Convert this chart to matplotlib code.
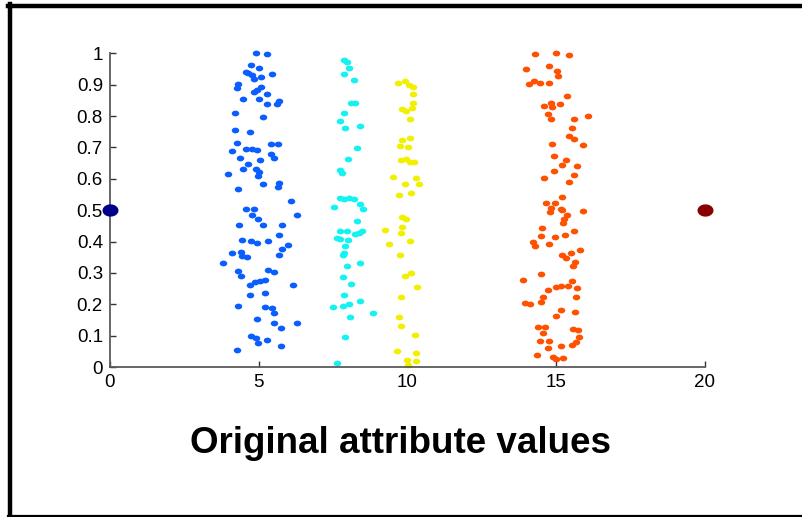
import numpy as np
import matplotlib.pyplot as plt
from matplotlib.lines import Line2D
from matplotlib.path import Path

plt.rcParams['font.family'] = ['Liberation Sans', 'DejaVu Sans']

# two end points of the attribute range
end_x = [0, 20]
end_y = [0.5, 0.5]
end_colors = ['#000088', '#880000']

blue_x = [4.91, 5.27, 4.73, 5.02, 4.56, 4.65, 4.78, 5.46, 5.08, 4.84, 4.31, 4.26, 5.08, 4.95,
          4.84, 5.27, 4.46, 5.02, 5.69, 5.29, 5.62, 4.19, 5.14, 4.22, 4.72, 4.26, 5.43, 5.64,
          4.11, 4.59, 4.76, 4.95, 5.41, 4.38, 5.52, 5.03, 4.65, 4.46, 4.90, 5.01, 3.96, 4.99,
          5.14, 5.69, 5.64, 4.29, 6.08, 4.56, 4.85,
          4.76, 4.99, 6.30, 4.34, 5.15, 5.77, 5.68, 4.45, 4.73, 4.95, 5.30, 5.99, 4.11, 4.40,
          4.43, 4.62, 5.79, 5.67, 3.80, 4.29, 4.40, 5.32, 5.52, 4.72, 4.87, 5.04, 5.21, 6.14,
          4.72, 5.22, 4.29, 5.23, 5.46, 5.50, 4.94, 5.52, 5.76, 6.29, 4.74, 4.90, 4.99, 5.29,
          5.76, 4.26]
blue_y = [1.000, 0.997, 0.962, 0.953, 0.940, 0.938, 0.932, 0.933, 0.924, 0.917, 0.902, 0.888,
          0.892, 0.882, 0.875, 0.870, 0.853, 0.853, 0.849, 0.837, 0.838, 0.810, 0.798, 0.756,
          0.748, 0.714, 0.712, 0.710, 0.688, 0.694, 0.694, 0.693, 0.680, 0.667, 0.665, 0.661,
          0.648, 0.630, 0.630, 0.622, 0.614, 0.609, 0.584, 0.586, 0.575, 0.567, 0.529, 0.503,
          0.505,
          0.484, 0.473, 0.486, 0.452, 0.452, 0.452, 0.420, 0.405, 0.403, 0.396, 0.401, 0.389,
          0.362, 0.367, 0.354, 0.351, 0.375, 0.356, 0.333, 0.307, 0.289, 0.309, 0.302, 0.262,
          0.272, 0.274, 0.277, 0.262, 0.230, 0.236, 0.194, 0.192, 0.187, 0.171, 0.153, 0.141,
          0.124, 0.141, 0.100, 0.093, 0.077, 0.085, 0.068, 0.055]

cyan_x = [7.87, 7.96, 8.04, 7.87, 8.21, 8.12, 8.24, 7.87, 7.75, 8.40, 7.91, 8.29, 7.99, 7.75,
          7.79, 7.75, 7.87, 8.04, 8.20, 8.40, 8.51, 7.53, 8.29, 7.75, 7.96, 8.24, 8.38, 8.46,
          7.62, 7.73, 7.99, 7.91, 7.87, 7.84, 7.96, 8.40, 7.82, 8.10, 7.87, 8.40, 7.49, 7.82,
          8.04, 8.83, 8.07, 7.90, 7.64]
cyan_y = [0.980, 0.972, 0.953, 0.933, 0.914, 0.842, 0.842, 0.810, 0.783, 0.769, 0.761, 0.697,
          0.663, 0.629, 0.620, 0.539, 0.535, 0.540, 0.535, 0.521, 0.505, 0.511, 0.466, 0.434,
          0.434, 0.424, 0.426, 0.434, 0.410, 0.409, 0.404, 0.386, 0.365, 0.357, 0.323, 0.333,
          0.288, 0.264, 0.229, 0.209, 0.191, 0.194, 0.200, 0.172, 0.160, 0.097, 0.012]

yellow_x = [9.69, 9.92, 10.06, 10.20, 10.20, 10.20, 9.83, 9.95, 10.16, 10.08, 9.83, 10.08,
            9.75, 10.03, 9.77, 9.95, 10.08, 10.22, 9.50, 10.29, 9.92, 10.40, 9.71, 10.13,
            9.83, 9.95, 9.83, 9.24, 9.78, 10.08, 9.38, 9.75, 9.92, 10.11, 10.33, 9.77, 9.71,
            9.77, 10.25, 9.66, 10.29, 9.99, 10.28, 10.03]
yellow_y = [0.906, 0.911, 0.898, 0.891, 0.869, 0.843, 0.823, 0.816, 0.826, 0.792, 0.723, 0.731,
            0.705, 0.700, 0.661, 0.664, 0.654, 0.654, 0.605, 0.603, 0.583, 0.583, 0.547, 0.556,
            0.479, 0.473, 0.447, 0.436, 0.427, 0.401, 0.392, 0.357, 0.291, 0.301, 0.255, 0.223,
            0.160, 0.131, 0.101, 0.051, 0.046, 0.022, 0.019, 0.006]

orange_x = [14.29, 15.01, 15.44, 13.97, 14.75, 15.03, 15.07, 14.08, 14.26, 14.45, 14.76, 15.37,
            14.81, 14.59, 14.87, 15.13, 14.71, 14.82, 15.59, 16.06, 15.54, 15.44, 15.60, 15.89,
            14.86, 14.94, 15.33, 15.20, 15.70, 14.92, 15.60, 14.59, 15.44, 15.20, 14.66, 14.97,
            14.83, 15.16,
            14.79, 15.18, 15.37, 15.89, 15.27, 15.22, 14.52, 14.48, 14.97, 15.29, 15.59, 14.21,
            14.30, 14.76, 15.18, 15.32, 15.50, 15.79, 15.63, 15.55, 13.89, 14.48, 15.54, 14.71,
            15.01, 15.15, 15.39, 15.71, 14.54, 15.66, 13.94, 14.12, 14.48, 15.15, 15.63, 15.01,
            14.40, 14.62, 14.54, 15.55, 15.74, 15.77, 15.68, 15.54, 14.45, 14.77, 14.71, 15.16,
            14.36, 14.88, 15.01, 15.24]
orange_y = [0.997, 1.000, 0.994, 0.951, 0.959, 0.943, 0.927, 0.901, 0.913, 0.906, 0.905, 0.864,
            0.843, 0.831, 0.828, 0.839, 0.808, 0.790, 0.789, 0.799, 0.762, 0.737, 0.726, 0.707,
            0.712, 0.674, 0.659, 0.644, 0.642, 0.626, 0.611, 0.603, 0.591, 0.542, 0.523, 0.523,
            0.507, 0.503,
            0.493, 0.500, 0.486, 0.496, 0.473, 0.458, 0.442, 0.418, 0.413, 0.420, 0.433, 0.399,
            0.385, 0.392, 0.357, 0.346, 0.365, 0.373, 0.335, 0.322, 0.277, 0.295, 0.274, 0.245,
            0.256, 0.258, 0.258, 0.251, 0.224, 0.222, 0.205, 0.201, 0.208, 0.182, 0.177, 0.162,
            0.128, 0.128, 0.110, 0.120, 0.118, 0.097, 0.081, 0.070, 0.083, 0.083, 0.060, 0.067,
            0.038, 0.031, 0.025, 0.028]

clusters = [
    (blue_x, blue_y, '#0a5eff'),
    (cyan_x, cyan_y, '#14f2f2'),
    (yellow_x, yellow_y, '#f0f000'),
    (orange_x, orange_y, '#ff5200'),
]

x_ticks = [0, 5, 10, 15, 20]
y_ticks = [0, 0.1, 0.2, 0.3, 0.4, 0.5, 0.6, 0.7, 0.8, 0.9, 1]
y_labels = ['0', '0.1', '0.2', '0.3', '0.4', '0.5', '0.6', '0.7', '0.8', '0.9', '1']

# slightly flattened dot, like the stretched markers in the slide
t = np.linspace(0, 2 * np.pi, 40)
flat_dot = Path(np.column_stack([1.3 * np.cos(t), np.sin(t)]), closed=True)

fig = plt.figure(figsize=(8.02, 5.17), dpi=100)
ax = fig.add_axes([0.137, 0.290, 0.742, 0.607])

for xs, ys, c in clusters:
    ax.plot(xs, ys, linestyle='none', marker=flat_dot, color=c, markersize=5.4,
            markeredgewidth=0, clip_on=False)

for x, y, c in zip(end_x, end_y, end_colors):
    ax.plot(x, y, linestyle='none', marker=flat_dot, color=c, markersize=11.5,
            markeredgewidth=0, clip_on=False, zorder=5)

ax.set_xlim(0, 20)
ax.set_ylim(0, 1)
ax.set_xticks(x_ticks)
ax.set_yticks(y_ticks)
ax.set_yticklabels(y_labels)

for side in ['top', 'right']:
    ax.spines[side].set_visible(False)
for side in ['left', 'bottom']:
    ax.spines[side].set_color('#5a5a5a')
    ax.spines[side].set_linewidth(1.3)

ax.tick_params(direction='in', length=4, width=1, color='#333333',
               labelsize=13.5, labelcolor='black')
ax.tick_params(axis='y', pad=5)
ax.tick_params(axis='x', pad=5)

fig.text(0.5, 0.143, 'Original attribute values', ha='center', va='center',
         fontsize=26.5, fontweight='bold')

# frame around the slide
fig.add_artist(Line2D([0.0125, 0.0125], [0, 0.993], transform=fig.transFigure,
                      color='black', linewidth=3.2))
fig.add_artist(Line2D([0.0105, 1], [0.9885, 0.9885], transform=fig.transFigure,
                      color='black', linewidth=3.2))
fig.add_artist(Line2D([0.0105, 1], [0.002, 0.002], transform=fig.transFigure,
                      color='black', linewidth=1.6))

fig.savefig('out.png', dpi=100)
